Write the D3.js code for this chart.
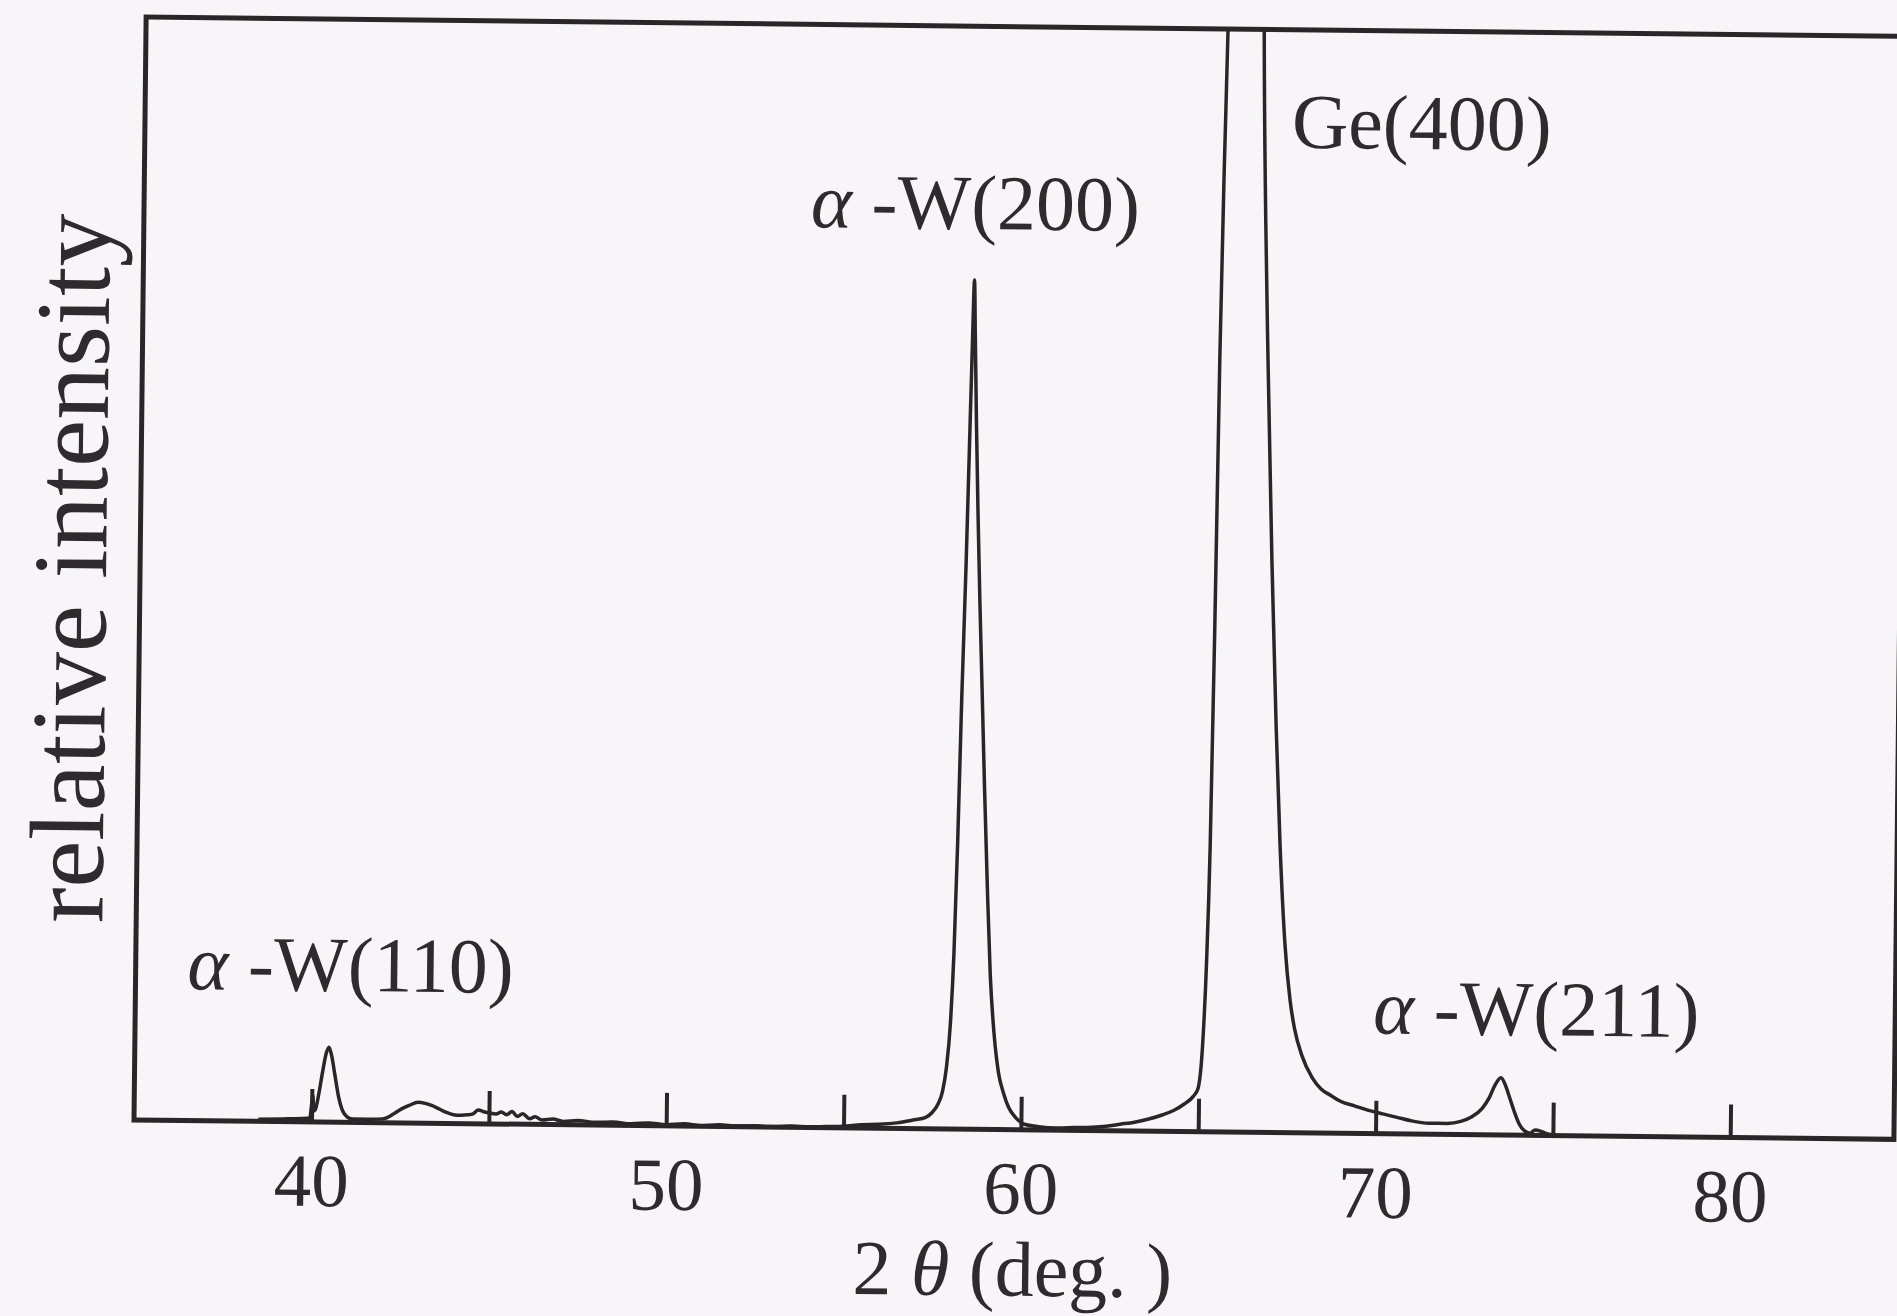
<!DOCTYPE html>
<html>
<head>
<meta charset="utf-8">
<script src="https://cdn.jsdelivr.net/npm/d3@7"></script>
<style>
  html, body { margin: 0; padding: 0; background: #f7f5f8; }
  svg { display: block; }
  text { font-family: "Liberation Serif", "Times New Roman", serif; fill: #2f2a2e; }
</style>
</head>
<body>
<svg id="chart" width="1897" height="1316"></svg>
<script>
// XRD scan, 2theta in degrees, intensity in % of the frame height
var twoTheta = [
  38.5, 39.2, 39.7, 39.95, 40.0, 40.03, 40.06, 40.1, 40.2, 40.3, 40.4, 40.47, 40.55, 40.65, 40.75, 40.88, 41.0, 41.15, 41.6,
  42.0, 42.15, 42.35, 42.55, 42.75, 43.0, 43.2, 43.4, 43.6, 43.8, 44.0, 44.2, 44.4, 44.55, 44.7, 44.85, 45.0, 45.2, 45.35,
  45.5, 45.65, 45.8, 45.95, 46.15, 46.3, 46.5, 46.8, 47.1, 47.5, 48.0, 48.5, 49.0, 49.5, 50.0, 50.5, 51.0, 51.5, 52.0,
  52.5, 53.0, 53.5, 54.0, 54.5, 55.0, 55.5, 56.0, 56.5, 57.0, 57.3, 57.5, 57.65, 57.78, 57.88, 57.98, 58.06, 58.13, 58.2,
  58.28, 58.34, 58.39, 58.43, 58.47, 58.53, 58.6, 58.68, 58.77, 58.87, 58.98, 59.09, 59.22, 59.36, 59.5, 59.65, 59.85,
  60.1, 60.5, 61.0, 61.5, 62.0, 62.4, 62.8, 63.2, 63.6, 64.0, 64.3, 64.6, 64.85, 64.98, 65.1, 65.18, 65.25, 65.31, 65.37,
  65.44, 65.5, 65.7, 66.0, 66.3, 66.52, 66.62, 66.73, 66.9, 67.07, 67.22, 67.39, 67.55, 67.68, 67.9, 68.2, 68.45, 68.74,
  69.0, 69.4, 69.8, 70.2, 70.6, 71.0, 71.5, 72.0, 72.4, 72.7, 73.0, 73.2, 73.35, 73.52, 73.65, 73.78, 73.92, 74.05, 74.2,
  74.35, 74.5, 74.65, 74.8, 75.1
];
var intensity = [
  0.2, 0.25, 0.3, 0.35, 1.6, 2.4, 1.0, 1.1, 2.6, 4.6, 6.3, 6.8, 6.0, 4.2, 2.4, 1.0, 0.5, 0.3, 0.3,
  0.35, 0.5, 0.9, 1.3, 1.6, 1.9, 1.8, 1.6, 1.3, 1.0, 0.8, 0.75, 0.8, 0.9, 1.25, 1.1, 1.0, 0.9, 1.1,
  0.85, 1.15, 0.7, 0.95, 0.5, 0.7, 0.4, 0.5, 0.3, 0.4, 0.25, 0.3, 0.15, 0.25, 0.1, 0.2, 0.05, 0.15, 0.05,
  0.1, 0.0, 0.1, 0.05, 0.1, 0.15, 0.3, 0.35, 0.5, 0.8, 1.0, 1.5, 2.2, 3.4, 5.5, 9.5, 16, 26, 39,
  51, 62, 71, 77, 72, 64, 56, 48, 40, 31, 22, 14, 8.5, 5, 3.3, 2, 1.1,
  0.5, 0.3, 0.2, 0.25, 0.3, 0.4, 0.6, 0.8, 1.1, 1.5, 1.9, 2.5, 3.2, 3.9, 8, 15, 26, 45, 70,
  88, 100, 200, 300, 200, 100, 83, 70, 52, 37, 26, 17, 12, 9.5, 7, 5, 4, 3.4,
  2.9, 2.5, 2.1, 1.8, 1.5, 1.2, 1.0, 1.0, 1.2, 1.6, 2.4, 3.4, 4.5, 5.2, 4.5, 3.3, 2.0, 1.0, 0.4,
  0.2, 0.5, 0.4, 0.2, 0.05
];

var tickValues = [40, 45, 50, 55, 60, 65, 70, 75, 80];
var tickLabels = ["40", "", "50", "", "60", "", "70", "", "80"];

// peak annotations: greek prefix, rest of label, anchor (2theta, %)
var peakGreek = ["α", "α", "", "α"];
var peakNames = [" -W(110)", " -W(200)", "Ge(400)", " -W(211)"];
var peakLabelX = [36.46, 53.8, 67.33, 69.9];
var peakLabelY = [11.9, 81.6, 89.3, 9.07];

var xTitle = ["2 ", "θ", " (deg. )"];
var yTitle = "relative intensity";

// layout
var svg = d3.select("#chart");
var frame = { left: 134, top: 17, width: 1760, height: 1103 };
var tilt = 0.63; // the scanned page sits slightly rotated
var ink = "#2a2528";

svg.append("rect").attr("width", 1897).attr("height", 1316).attr("fill", "#f7f5f8");

var g = svg.append("g")
    .attr("transform", "rotate(" + tilt + "," + frame.left + "," + (frame.top + frame.height) + ") translate(" + frame.left + "," + frame.top + ")");

var x = d3.scaleLinear().domain([40, 80]).range([177.5, 1596.3]);
var y = d3.scaleLinear().domain([0, 100]).range([frame.height, 0]);

g.append("clipPath").attr("id", "plotClip")
    .append("rect").attr("width", frame.width).attr("height", frame.height);

// ticks pointing inward
var xAxis = d3.axisBottom(x)
    .tickValues(tickValues)
    .tickSizeInner(-33)
    .tickSizeOuter(0)
    .tickFormat(function (d, i) { return tickLabels[i]; });

var axisG = g.append("g")
    .attr("transform", "translate(0," + frame.height + ")")
    .call(xAxis);
axisG.select(".domain").remove();
axisG.selectAll(".tick line").attr("stroke", ink).attr("stroke-width", 4);
axisG.selectAll(".tick text")
    .attr("y", 84).attr("dy", 0)
    .attr("font-size", 75)
    .attr("fill", "#2f2a2e")
    .attr("font-family", "Liberation Serif, Times New Roman, serif");

// spectrum
var line = d3.line()
    .x(function (d, i) { return x(twoTheta[i]); })
    .y(function (d, i) { return y(intensity[i]); })
    .curve(d3.curveMonotoneX);

g.append("path")
    .datum(twoTheta)
    .attr("clip-path", "url(#plotClip)")
    .attr("fill", "none")
    .attr("stroke", ink)
    .attr("stroke-width", 3.5)
    .attr("stroke-linejoin", "round")
    .attr("d", line);

// frame
g.append("rect")
    .attr("width", frame.width)
    .attr("height", frame.height)
    .attr("fill", "none")
    .attr("stroke", ink)
    .attr("stroke-width", 5);

// peak labels
peakNames.forEach(function (name, i) {
    var t = g.append("text")
        .attr("x", x(peakLabelX[i]))
        .attr("y", y(peakLabelY[i]))
        .attr("font-size", 78);
    if (peakGreek[i]) t.append("tspan").attr("font-style", "italic").text(peakGreek[i]);
    t.append("tspan").text(name);
});

// axis titles
var xt = g.append("text")
    .attr("x", frame.width / 2)
    .attr("y", frame.height + 166)
    .attr("text-anchor", "middle")
    .attr("font-size", 78);
xt.append("tspan").text(xTitle[0]);
xt.append("tspan").attr("font-style", "italic").text(xTitle[1]);
xt.append("tspan").text(xTitle[2]);

g.append("text")
    .attr("transform", "translate(-34," + 552 + ") rotate(-90)")
    .attr("text-anchor", "middle")
    .attr("font-size", 106)
    .text(yTitle);
</script>
</body>
</html>
